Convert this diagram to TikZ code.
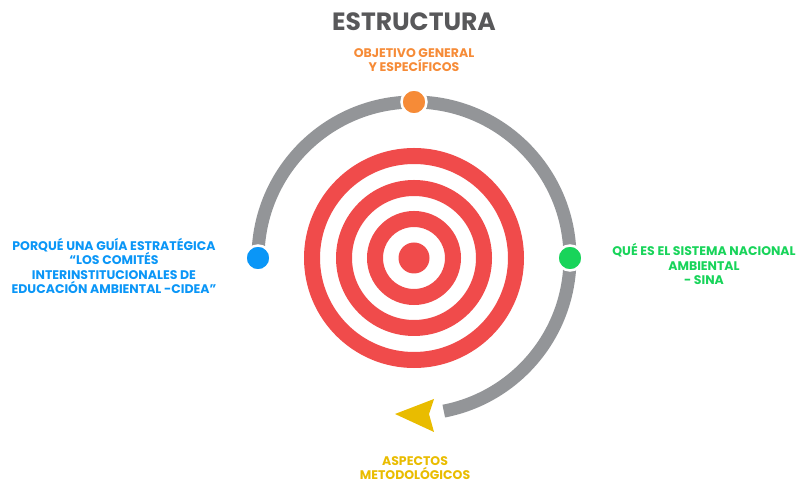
\documentclass[tikz,border=0pt]{standalone}
\usepackage{fontspec}
\setmainfont{Poppins}
\definecolor{titlegray}{HTML}{58585A}
\definecolor{ringgray}{HTML}{939598}
\definecolor{targetred}{HTML}{F04B4B}
\definecolor{objorange}{HTML}{F68B37}
\definecolor{guiablue}{HTML}{0A96F7}
\definecolor{sinagreen}{HTML}{18D45A}
\definecolor{metyellow}{HTML}{E9BC00}
\begin{document}
\begin{tikzpicture}[x=1pt, y=1pt,
    dot/.style={circle, fill=#1, draw=white, line width=2.5pt, minimum size=25pt, inner sep=0pt},
    lbl/.style={text=#1, font=\bfseries\fontsize{12.5}{14.2}\selectfont, align=center, inner sep=0pt}]
                \useasboundingbox (0,0) rectangle (804,482);
                \coordinate (C) at (414,224);
                
                % 标题
                \node[text=titlegray, font=\bfseries\fontsize{25}{30}\selectfont] (title) at (414,460) {ESTRUCTURA};
                
                % 靶心
                \fill[targetred] (C) circle (15.5);
                \foreach \r in {39,70,102}
                    \draw[targetred, line width=16] (C) circle (\r);
                
                % 灰色圆环 (从左到右下)
                \draw[ringgray, line width=13] (C) ++(180:156) arc[start angle=180, end angle=-79, radius=156];
                
                % 箭头
                \fill[metyellow] (395,68) -- (434,83) -- (429,68) -- (434,50) -- cycle;
                
                % 圆点
                \node[dot=guiablue] (guia) at (258,224) {};
                \node[dot=objorange] (objetivo) at (414,380) {};
                \node[dot=sinagreen] (sina) at (570,224) {};
                
                % 标注
                \node[lbl=objorange] (objtext) at (414,422) {OBJETIVO GENERAL\\Y ESPECÍFICOS};
                \node[lbl=guiablue] (guiatext) at (114,216) {PORQUÉ UNA GUÍA ESTRATÉGICA\\“LOS COMITÉS\\INTERINSTITUCIONALES DE\\EDUCACIÓN AMBIENTAL -CIDEA”};
                \node[lbl=sinagreen] (sinatext) at (704,218) {QUÉ ES EL SISTEMA NACIONAL\\AMBIENTAL\\- SINA};
                \node[lbl=metyellow] (mettext) at (415,14) {ASPECTOS\\METODOLÓGICOS};
            \end{tikzpicture}
\end{document}
